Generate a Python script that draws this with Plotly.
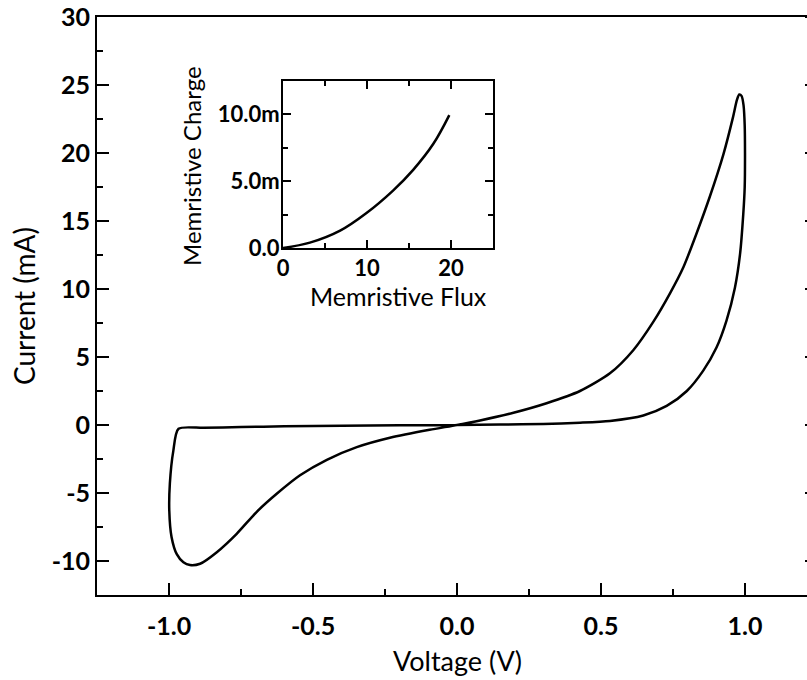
import plotly.graph_objects as go

# Main I-V loop (Voltage in V, Current in mA); path starts and ends at the sharp corner near -1 V
voltage = [-0.967, -0.985, -0.997, -0.999, -0.991, -0.973, -0.950, -0.927, -0.892, -0.834, -0.765, -0.696,
           -0.626, -0.545, -0.452, -0.348, -0.233, -0.095, 0.0,
           0.08, 0.196, 0.311, 0.427, 0.531, 0.612, 0.682, 0.740, 0.786, 0.832, 0.878, 0.925, 0.958,
           0.972, 0.980, 0.988, 0.995, 0.999, 1.000, 0.999, 0.994, 0.983, 0.965, 0.936, 0.901, 0.855,
           0.798, 0.728, 0.647, 0.531, 0.427, 0.300, 0.150, 0.0,
           -0.2, -0.4, -0.6, -0.75, -0.88, -0.967]
current = [-0.28, -1.9, -4.3, -6.3, -8.25, -9.5, -10.1, -10.3, -10.2, -9.35, -8.0, -6.4,
           -5.06, -3.7, -2.56, -1.63, -0.94, -0.35, 0.0,
           0.33, 0.9, 1.6, 2.5, 3.8, 5.5, 7.6, 9.7, 11.6, 14.1, 16.8, 19.9, 22.6,
           23.9, 24.3, 24.2, 23.5, 22.0, 20.0, 17.5, 15.5, 12.6, 10.1, 7.7, 5.7, 4.0,
           2.5, 1.4, 0.7, 0.3, 0.17, 0.08, 0.03, 0.0,
           -0.02, -0.05, -0.1, -0.15, -0.21, -0.28]

# Inset: memristive charge vs flux
flux = [0.0, 3.2, 6.8, 9.9, 13.1, 15.5, 17.9, 19.8]
charge = [0.0, 0.0004, 0.0013, 0.0026, 0.0043, 0.00585, 0.0078, 0.00995]

x_ticks = [-1.0, -0.5, 0.0, 0.5, 1.0]
x_ticktext = ["-1.0", "-0.5", "0.0", "0.5", "1.0"]
y_ticks = [-10, -5, 0, 5, 10, 15, 20, 25, 30]
y_ticktext = ["-10", "-5", "0", "5", "10", "15", "20", "25", "30"]
inset_x_ticks = [0, 10, 20]
inset_y_ticks = [0.0, 0.005, 0.010]
inset_y_ticktext = ["0.0", "5.0m", "10.0m"]

FONT = "Lato"
fig = go.Figure()
fig.add_trace(go.Scatter(x=voltage, y=current, mode="lines",
                         line=dict(color="black", width=2.5, shape="spline", smoothing=0.7),
                         showlegend=False, hoverinfo="skip"))
fig.add_trace(go.Scatter(x=flux, y=charge, mode="lines", xaxis="x2", yaxis="y2",
                         line=dict(color="black", width=2.5, shape="spline", smoothing=1.0),
                         showlegend=False, hoverinfo="skip"))

W, H = 807, 680
L, T, B = 97, 17, 85
x_lo = -1.25
x_hi = x_lo + (W - L) / 288.0

axis_common = dict(showline=True, linecolor="black", linewidth=2, ticks="inside",
                   tickcolor="black", tickwidth=2, showgrid=False, zeroline=False)

# right-edge tick marks (the right frame lies just outside the visible window)
shapes = []
for yv in y_ticks:
    shapes.append(dict(type="line", xref="x", yref="y", x0=x_hi - 2 / 288.0, x1=x_hi,
                       y0=yv, y1=yv, line=dict(color="black", width=2)))

pw = W - L
ph = H - T - B
ix0, ix1 = (283 - L) / pw, (493 - L) / pw
iy0, iy1 = (595 - 248) / ph, (595 - 81) / ph

fig.update_layout(
    width=W, height=H,
    margin=dict(l=L, r=0, t=T, b=B),
    paper_bgcolor="white", plot_bgcolor="white",
    font=dict(family=FONT, color="black"),
    xaxis=dict(**axis_common, range=[x_lo, x_hi], tickvals=x_ticks, ticktext=x_ticktext,
               ticklen=12, mirror=True, ticklabelstandoff=8,
               tickfont=dict(family=FONT, size=25, color="black", weight="bold"),
               minor=dict(ticks="inside", ticklen=6, tickwidth=2, tickcolor="black",
                          tickvals=[-0.75, -0.25, 0.25, 0.75])),
    yaxis=dict(**axis_common, range=[-12.5, 30], tickvals=y_ticks, ticktext=y_ticktext, ticklen=12,
               tickfont=dict(family=FONT, size=25, color="black", weight="bold"),
               minor=dict(ticks="inside", ticklen=6, tickwidth=2, tickcolor="black",
                          tickvals=[-7.5, -2.5, 2.5, 7.5, 12.5, 17.5, 22.5, 27.5])),
    xaxis2=dict(**axis_common, domain=[ix0, ix1], anchor="y2", range=[0, 25],
                tickvals=inset_x_ticks, ticklen=8, mirror="allticks",
                tickfont=dict(family=FONT, size=22, color="black", weight="bold"),
                minor=dict(ticks="inside", ticklen=5, tickwidth=2, tickcolor="black",
                           tickvals=[5, 15])),
    yaxis2=dict(**axis_common, domain=[iy0, iy1], anchor="x2", range=[0, 0.0125],
                tickvals=inset_y_ticks, ticktext=inset_y_ticktext, ticklen=8, mirror="allticks",
                ticklabelstandoff=-3,
                tickfont=dict(family=FONT, size=22, color="black", weight="bold"),
                minor=dict(ticks="inside", ticklen=5, tickwidth=2, tickcolor="black",
                           tickvals=[0.0025, 0.0075])),
    shapes=shapes,
    annotations=[
        dict(text="Voltage (V)", xref="x", yref="paper", x=0.0, y=(595 - 660) / ph,
             showarrow=False, font=dict(family=FONT, size=27, color="black"),
             xanchor="center", yanchor="middle"),
        dict(text="Current (mA)", xref="paper", yref="paper", x=(24 - L) / pw, y=(595 - 306) / ph,
             textangle=-90, showarrow=False, font=dict(family=FONT, size=28, color="black"),
             xanchor="center", yanchor="middle"),
        dict(text="Memristive Flux", xref="paper", yref="paper", x=(398 - L) / pw, y=(595 - 296) / ph,
             showarrow=False, font=dict(family=FONT, size=25, color="black"),
             xanchor="center", yanchor="middle"),
        dict(text="Memristive Charge", xref="paper", yref="paper", x=(192 - L) / pw, y=(595 - 166) / ph,
             textangle=-90, showarrow=False, font=dict(family=FONT, size=24, color="black"),
             xanchor="center", yanchor="middle"),
    ],
)

fig.write_html("out.html")
